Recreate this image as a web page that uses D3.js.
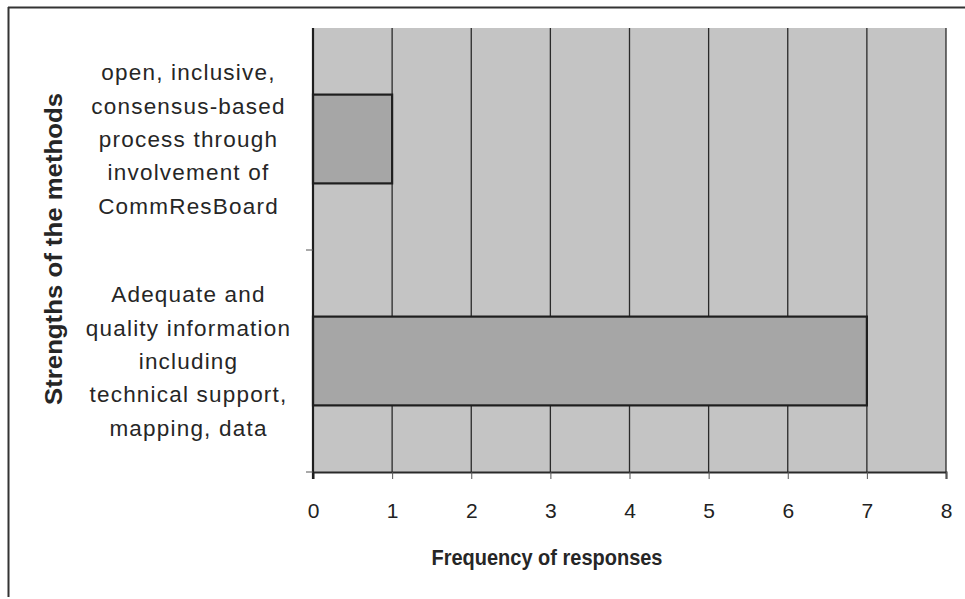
<!DOCTYPE html>
<html>
<head>
<meta charset="utf-8">
<script src="https://cdn.jsdelivr.net/npm/d3@7"></script>
<style>
  html, body { margin: 0; padding: 0; background: #fff; }
  svg { display: block; }
</style>
</head>
<body>
<svg id="chart" width="965" height="599"></svg>
<script>
// ---- data ----
const categories = [
  ["open, inclusive,", "consensus-based", "process through", "involvement of", "CommResBoard"],
  ["Adequate and", "quality information", "including", "technical support,", "mapping, data"]
];
const categoryKeys = ["open", "adequate"];
const values = [1, 7];
const xTicks = [0, 1, 2, 3, 4, 5, 6, 7, 8];
const xTitle = "Frequency of responses";
const yTitle = "Strengths of the methods";

// ---- layout ----
const svg = d3.select("#chart");
const pLeft = 313, pRight = 946, pTop = 28, pBottom = 472;
const font = "'Liberation Sans', Arial, sans-serif";

// outer frame (top and left visible)
svg.append("line").attr("x1", 8).attr("x2", 965).attr("y1", 7.5).attr("y2", 7.5)
  .attr("stroke", "#333").attr("stroke-width", 2);
svg.append("line").attr("x1", 8.5).attr("x2", 8.5).attr("y1", 7).attr("y2", 597)
  .attr("stroke", "#333").attr("stroke-width", 2);

const x = d3.scaleLinear().domain([0, 8]).range([pLeft, pRight]);
const y = d3.scaleBand().domain(categoryKeys).range([pTop, pBottom])
  .paddingInner(0.6).paddingOuter(0.3);

// plot background
svg.append("rect").attr("x", pLeft).attr("y", pTop)
  .attr("width", pRight - pLeft).attr("height", pBottom - pTop)
  .attr("fill", "#c4c4c4");

// vertical gridlines
svg.append("g").selectAll("line").data(xTicks.filter(d => d > 0)).join("line")
  .attr("x1", d => x(d)).attr("x2", d => x(d))
  .attr("y1", pTop).attr("y2", pBottom)
  .attr("stroke", "#2a2a2a").attr("stroke-width", 1.3);

// bars
svg.append("g").selectAll("rect").data(values).join("rect")
  .attr("x", x(0))
  .attr("y", (d, i) => y(categoryKeys[i]))
  .attr("width", d => x(d) - x(0))
  .attr("height", y.bandwidth())
  .attr("fill", "#a6a6a6")
  .attr("stroke", "#1e1e1e").attr("stroke-width", 2.2);

// x axis
const xAxis = d3.axisBottom(x).tickValues(xTicks).tickSize(7).tickPadding(24)
  .tickFormat(d3.format("d"));
const gx = svg.append("g").attr("transform", `translate(0,${pBottom})`).call(xAxis);
gx.select(".domain").attr("stroke", "#2a2a2a").attr("stroke-width", 2);
gx.selectAll(".tick line").attr("stroke", "#555").attr("stroke-width", 1);
gx.selectAll(".tick text").attr("font-family", font).attr("font-size", 21)
  .attr("fill", "#222");

// y axis (line + category boundary ticks)
svg.append("line").attr("x1", pLeft).attr("x2", pLeft).attr("y1", pTop).attr("y2", pBottom + 7)
  .attr("stroke", "#1e1e1e").attr("stroke-width", 2.2);
const boundaries = [pTop + (pBottom - pTop) / 2, pBottom];
svg.append("g").selectAll("line").data(boundaries).join("line")
  .attr("x1", pLeft - 7).attr("x2", pLeft).attr("y1", d => d).attr("y2", d => d)
  .attr("stroke", "#555").attr("stroke-width", 1);

// category labels
const lineH = 33.3;
categories.forEach((lines, i) => {
  const cy = y(categoryKeys[i]) + y.bandwidth() / 2 + 8;
  const t = svg.append("text")
    .attr("font-family", font).attr("font-size", 22.5).attr("fill", "#262626")
    .attr("text-anchor", "middle").attr("letter-spacing", 1.2);
  lines.forEach((ln, j) => {
    t.append("tspan").attr("x", 188.5)
      .attr("y", cy + (j - (lines.length - 1) / 2) * lineH)
      .text(ln);
  });
});

// axis titles
svg.append("text").attr("x", 547).attr("y", 565)
  .attr("text-anchor", "middle").attr("font-family", font)
  .attr("font-size", 22).attr("font-weight", "bold").attr("fill", "#262626")
  .attr("textLength", 231).attr("lengthAdjust", "spacingAndGlyphs")
  .text(xTitle);

svg.append("text")
  .attr("transform", "translate(62,249) rotate(-90)")
  .attr("text-anchor", "middle").attr("font-family", font)
  .attr("font-size", 24.5).attr("font-weight", "bold").attr("fill", "#262626")
  .attr("textLength", 312).attr("lengthAdjust", "spacingAndGlyphs")
  .text(yTitle);
</script>
</body>
</html>
